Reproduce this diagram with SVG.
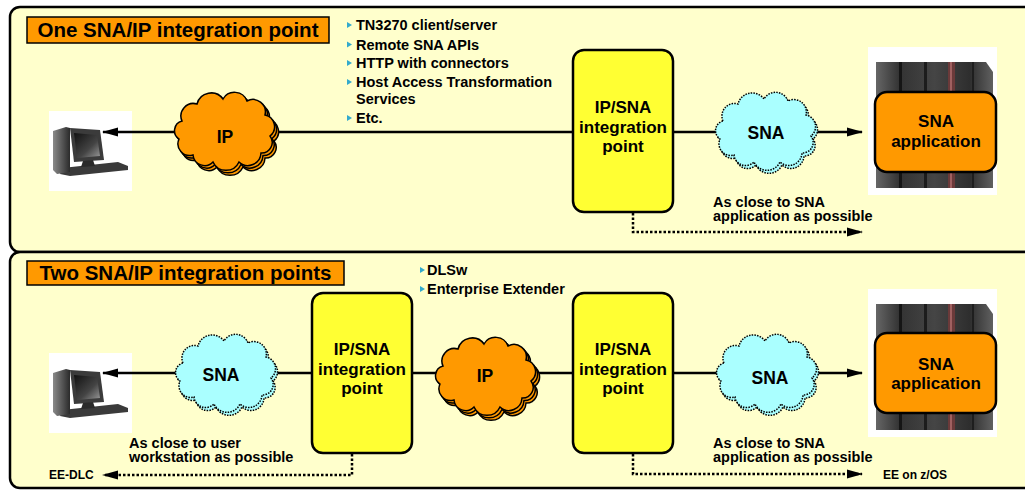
<svg xmlns="http://www.w3.org/2000/svg" xmlns:xlink="http://www.w3.org/1999/xlink" width="1025" height="490" viewBox="0 0 1025 490">
  <style>
    text { font-family: "Liberation Sans", Arial, sans-serif; font-weight: bold; fill: #000; }
    .panel { fill: #ffffcc; stroke: #000; stroke-width: 2.5; }
    .title { fill: #ff9900; stroke: #000; stroke-width: 1.5; }
    .title-text { font-size: 20.5px; text-anchor: middle; }
    .ipsna { fill: #ffff33; stroke: #000; stroke-width: 2.5; }
    .app { fill: #ff9900; stroke: #000; stroke-width: 2.5; }
    .node-text { font-size: 17px; text-anchor: middle; }
    .cloud-text { font-size: 17.5px; text-anchor: middle; }
    .note { font-size: 14.5px; }
    .small { font-size: 12px; }
    .bullet { fill: #33aacc; }
    .link { fill: none; stroke: #000; stroke-width: 2.5; }
    .dotted { stroke-dasharray: 2.5 2; }
    .ip-cloud { fill: #ff9900; stroke: #000; stroke-width: 1.5; }
    .sna-cloud { fill: #aaffff; stroke: #000; stroke-width: 1.5; stroke-dasharray: 1.5 1.2; }
  </style>
  <defs>
    <marker id="ah" viewBox="0 0 16 10" refX="15" refY="5" markerWidth="16" markerHeight="10" markerUnits="userSpaceOnUse" orient="auto">
      <path d="M0,0.5 L16,5 L0,9.5 Z" fill="#000"/>
    </marker>
    <!-- cloud outline, centred on the origin, about 102 x 78 -->
    <path id="cloud" d="M -43,-10 A 12.5 12.5 0 0 1 -28,-27 A 14.6 14.6 0 0 1 -2,-32 A 13.3 13.3 0 0 1 22,-30 A 12.5 12.5 0 0 1 40,-16 A 11.9 11.9 0 0 1 45,5 A 10.6 10.6 0 0 1 36,22 A 13.1 13.1 0 0 1 14,31 A 14.3 14.3 0 0 1 -12,31 A 11.7 11.7 0 0 1 -32,24 A 11.7 11.7 0 0 1 -46,8 A 10 10 0 0 1 -43,-10 Z"/>
    <linearGradient id="towerGrad" x1="0" y1="0" x2="1" y2="0">
      <stop offset="0" stop-color="#8a8a8a"/>
      <stop offset="1" stop-color="#2a2a2a"/>
    </linearGradient>
    <linearGradient id="screenGrad" x1="0" y1="0" x2="1" y2="1">
      <stop offset="0" stop-color="#111"/>
      <stop offset="0.6" stop-color="#444"/>
      <stop offset="1" stop-color="#999"/>
    </linearGradient>
    <linearGradient id="frameGrad" x1="0" y1="0" x2="1" y2="0">
      <stop offset="0" stop-color="#666"/>
      <stop offset="0.2" stop-color="#333"/>
      <stop offset="0.5" stop-color="#454545"/>
      <stop offset="0.8" stop-color="#2e2e2e"/>
      <stop offset="1" stop-color="#606060"/>
    </linearGradient>
    <!-- desktop workstation icon, 83 x 80 -->
    <g id="workstation">
      <rect x="0" y="0" width="83" height="80" fill="#fff"/>
      <polygon points="13,57 69,51 79,55 79,59 21,65 11,63" fill="#3a3a3a"/>
      <polygon points="4,20 17,16 21,17 21,61 8,63 4,59" fill="url(#towerGrad)"/>
      <polygon points="21,17 51,19 55,49 25,51" fill="#3b3b3b"/>
      <polygon points="25,22 48,24 51,45 28,47" fill="url(#screenGrad)"/>
      <polygon points="34,50 44,49 46,55 32,56" fill="#2a2a2a"/>
    </g>
    <!-- mainframe cabinet, 129 x 148 -->
    <g id="mainframe">
      <rect x="0" y="0" width="129" height="148" fill="#fff"/>
      <polygon points="8,15 118,15 125,25 125,141 8,141" fill="url(#frameGrad)"/>
      <rect x="31" y="15" width="3" height="126" fill="#151515"/>
      <rect x="56" y="15" width="3" height="126" fill="#1c1c1c"/>
      <rect x="80" y="15" width="7" height="126" fill="#6b3a3a"/>
      <rect x="82" y="15" width="2" height="126" fill="#a06060"/>
      <rect x="104" y="15" width="2" height="126" fill="#1e1e1e"/>
    </g>
  </defs>

  <!-- panels -->
  <rect class="panel" x="10" y="7" width="1040" height="245" rx="10"/>
  <rect class="panel" x="10" y="252" width="1040" height="236" rx="10"/>

  <!-- workstations sit under the arrow tips -->
  <g id="ws-1">
    <use href="#workstation" x="49" y="111"/>
  </g>
  <g id="ws-2">
    <use href="#workstation" x="49" y="353"/>
  </g>

  <!-- connectors -->
  <g id="connectors">
    <path class="link" d="M 573,132 H 103" marker-end="url(#ah)"/>
    <path class="link" d="M 673,132 H 862" marker-end="url(#ah)"/>
    <path class="link dotted" d="M 633,213 V 232 H 862" marker-end="url(#ah)"/>
    <path class="link" d="M 312,373 H 103" marker-end="url(#ah)"/>
    <path class="link" d="M 412,373 H 573"/>
    <path class="link" d="M 673,373 H 862" marker-end="url(#ah)"/>
    <path class="link dotted" d="M 352,454 V 475 H 103" marker-end="url(#ah)"/>
    <path class="link dotted" d="M 633,454 V 474 H 862" marker-end="url(#ah)"/>
  </g>

  <!-- upper scenario: one integration point -->
  <g id="title-one">
    <rect class="title" x="27" y="17" width="302" height="26"/>
    <text class="title-text" x="178" y="37">One SNA/IP integration point</text>
  </g>
  <g id="list-one">
    <polygon class="bullet" points="347,22 352,25 347,28"/>
    <text class="note" x="356" y="30">TN3270 client/server</text>
    <polygon class="bullet" points="347,41.5 352,44.5 347,47.5"/>
    <text class="note" x="356" y="49.5">Remote SNA APIs</text>
    <polygon class="bullet" points="347,60 352,63 347,66"/>
    <text class="note" x="356" y="68">HTTP with connectors</text>
    <polygon class="bullet" points="347,79 352,82 347,85"/>
    <text class="note" x="356" y="87">Host Access Transformation</text>
    <text class="note" x="356" y="104">Services</text>
    <polygon class="bullet" points="347,115 352,118 347,121"/>
    <text class="note" x="356" y="123">Etc.</text>
  </g>
  <g id="ip-cloud-1">
    <use href="#cloud" class="ip-cloud" transform="translate(229,136)"/>
    <use href="#cloud" class="ip-cloud" transform="translate(227,133.5)"/>
    <use href="#cloud" class="ip-cloud" transform="translate(225,131)"/>
    <text class="cloud-text" x="225" y="143">IP</text>
  </g>
  <g id="gw-1">
    <rect class="ipsna" x="573" y="50" width="100" height="162" rx="11"/>
    <text class="node-text" x="623" y="113">IP/SNA</text>
    <text class="node-text" x="623" y="133">integration</text>
    <text class="node-text" x="623" y="152">point</text>
  </g>
  <g id="sna-cloud-1">
    <use href="#cloud" class="sna-cloud" transform="translate(768,134)"/>
    <use href="#cloud" class="sna-cloud" transform="translate(766,131)"/>
    <text class="cloud-text" x="766" y="139">SNA</text>
  </g>
  <g id="app-1">
    <use href="#mainframe" x="868" y="47"/>
    <rect class="app" x="875" y="92" width="121" height="80" rx="12"/>
    <text class="node-text" x="936" y="127">SNA</text>
    <text class="node-text" x="936" y="147">application</text>
  </g>
  <g id="note-1">
    <text class="note" x="713" y="207">As close to SNA</text>
    <text class="note" x="713" y="221">application as possible</text>
  </g>

  <!-- lower scenario: two integration points -->
  <g id="title-two">
    <rect class="title" x="27" y="261" width="317" height="24"/>
    <text class="title-text" x="185.5" y="280">Two SNA/IP integration points</text>
  </g>
  <g id="list-two">
    <polygon class="bullet" points="420,267 425,270 420,273"/>
    <text class="note" x="427" y="275">DLSw</text>
    <polygon class="bullet" points="420,286 425,289 420,292"/>
    <text class="note" x="427" y="294">Enterprise Extender</text>
  </g>
  <g id="sna-cloud-2">
    <use href="#cloud" class="sna-cloud" transform="translate(228,376)"/>
    <use href="#cloud" class="sna-cloud" transform="translate(226,373)"/>
    <text class="cloud-text" x="221" y="381">SNA</text>
  </g>
  <g id="gw-2">
    <rect class="ipsna" x="312" y="293" width="100" height="160" rx="11"/>
    <text class="node-text" x="362" y="355">IP/SNA</text>
    <text class="node-text" x="362" y="375">integration</text>
    <text class="node-text" x="362" y="394">point</text>
  </g>
  <g id="ip-cloud-2">
    <use href="#cloud" class="ip-cloud" transform="translate(490,381)"/>
    <use href="#cloud" class="ip-cloud" transform="translate(488,378.5)"/>
    <use href="#cloud" class="ip-cloud" transform="translate(486,376)"/>
    <text class="cloud-text" x="485" y="382">IP</text>
  </g>
  <g id="gw-3">
    <rect class="ipsna" x="573" y="293" width="100" height="160" rx="11"/>
    <text class="node-text" x="623" y="355">IP/SNA</text>
    <text class="node-text" x="623" y="375">integration</text>
    <text class="node-text" x="623" y="394">point</text>
  </g>
  <g id="sna-cloud-3">
    <use href="#cloud" class="sna-cloud" transform="translate(769,376)"/>
    <use href="#cloud" class="sna-cloud" transform="translate(767,373)"/>
    <text class="cloud-text" x="770" y="384">SNA</text>
  </g>
  <g id="app-2">
    <use href="#mainframe" x="868" y="289"/>
    <rect class="app" x="875" y="333" width="121" height="80" rx="12"/>
    <text class="node-text" x="936" y="370">SNA</text>
    <text class="node-text" x="936" y="389">application</text>
  </g>
  <g id="note-2">
    <text class="note" x="129" y="448">As close to user</text>
    <text class="note" x="129" y="462">workstation as possible</text>
  </g>
  <g id="note-3">
    <text class="note" x="713" y="448">As close to SNA</text>
    <text class="note" x="713" y="462">application as possible</text>
  </g>
  <g id="ends">
    <text class="small" x="49" y="479">EE-DLC</text>
    <text class="small" x="883" y="479">EE on z/OS</text>
  </g>
</svg>
